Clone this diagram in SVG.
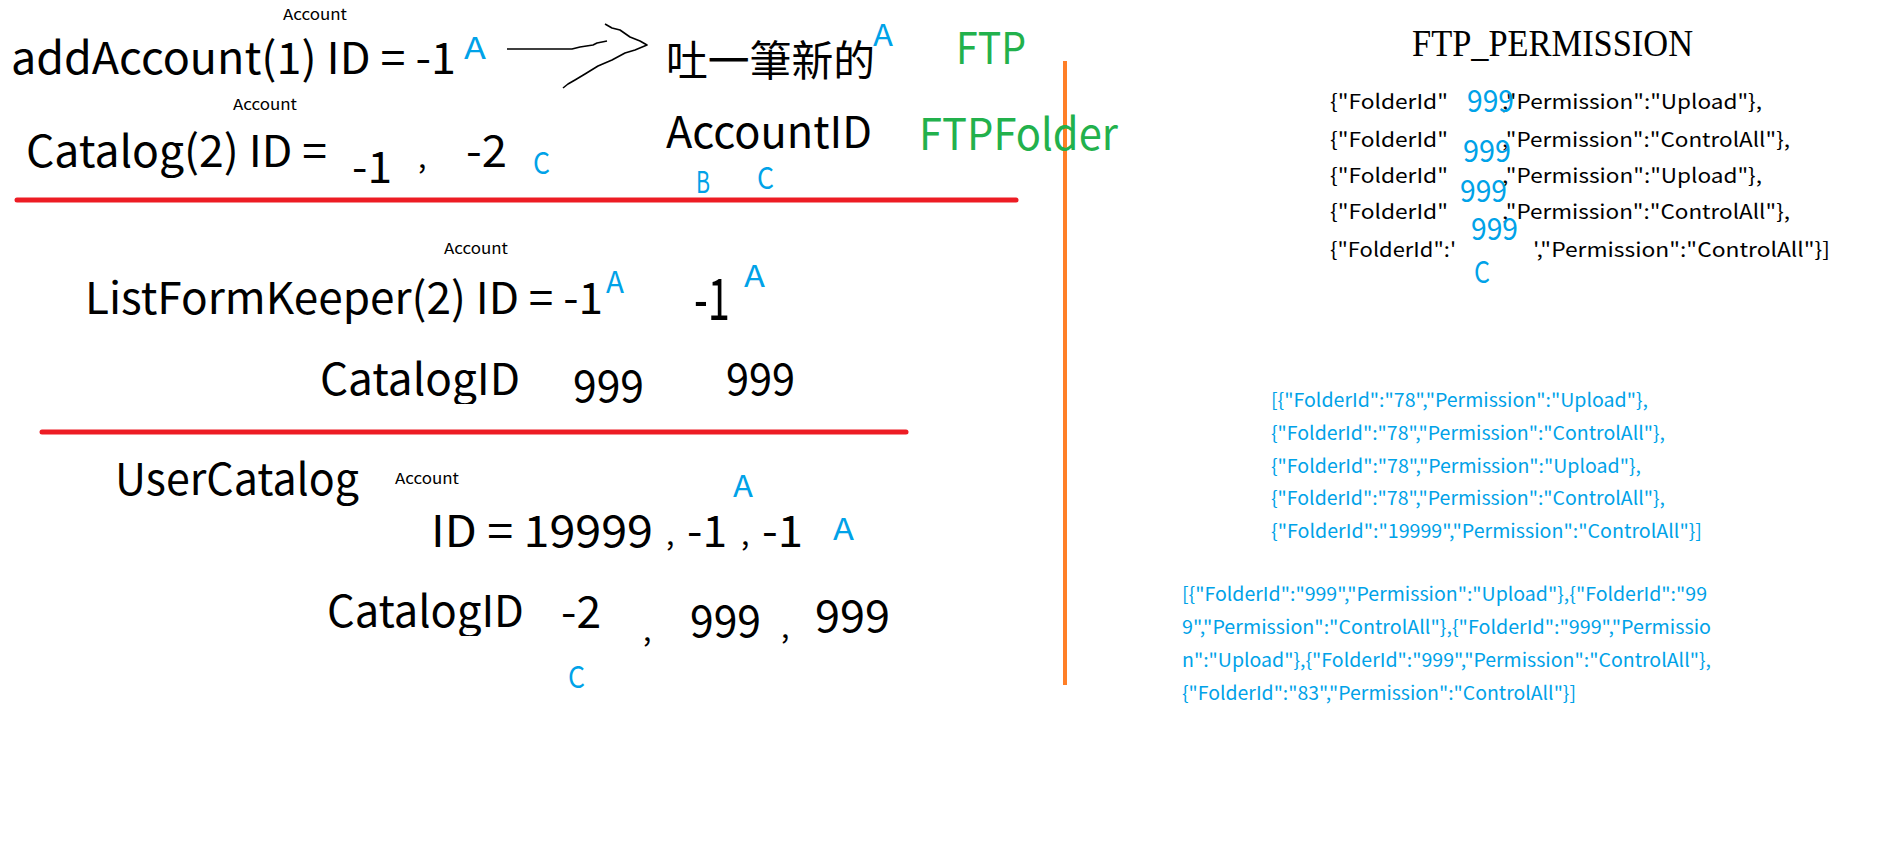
<svg xmlns="http://www.w3.org/2000/svg" width="1894" height="852" viewBox="0 0 1894 852">
<defs>
<style>
text{font-family:"Noto Sans CJK TC","Noto Sans",sans-serif;fill:#000}
.big{font-size:44px}
.sm{font-size:15px}
.lbl{font-size:30px;fill:#00a2e8}
.gr{fill:#22b14c}
.js{font-size:20px}
.bjs{font-size:19px;fill:#00a2e8}
.b9{font-size:31px;fill:#00a2e8}
.serif{font-family:"Liberation Serif",serif;font-size:38px}
.sep{stroke:#ed1c24;stroke-width:5;stroke-linecap:round}
</style>
<clipPath id="clip1"><rect x="300" y="340" width="240" height="64"/></clipPath>
<clipPath id="clip2"><rect x="300" y="570" width="240" height="66"/></clipPath>
</defs>
<rect width="1894" height="852" fill="#fff"/>

<g id="lines">
<line class="sep" x1="17" y1="200" x2="1016" y2="200"/>
<line class="sep" x1="42" y1="432" x2="906" y2="432"/>
<line x1="1065" y1="61" x2="1065" y2="685" stroke="#ff7f27" stroke-width="4"/>
</g>

<g id="connectors" fill="none" stroke="#000" stroke-width="1.6" stroke-linejoin="round">
<polyline points="507,49 572,49 580,47 593,45 597,43 607,41"/>
<polyline points="605,24 612,28 620,30 630,37 640,41 647,45 635,50 625,53 612,60 598,66 585,74 575,80 568,84 563,88"/>
</g>

<g id="row1">
<text class="sm" x="283" y="20" textLength="64" lengthAdjust="spacingAndGlyphs">Account</text>
<text class="big" x="11" y="74" textLength="445" lengthAdjust="spacingAndGlyphs">addAccount(1) ID = -1</text>
<text class="lbl" x="464" y="59" textLength="22" lengthAdjust="spacingAndGlyphs">A</text>
<text x="666" y="76" style="font-size:42px" textLength="209" lengthAdjust="spacingAndGlyphs">吐一筆新的</text>
<text class="lbl" x="873" y="46" textLength="20" lengthAdjust="spacingAndGlyphs">A</text>
<text class="big gr" x="956" y="64" textLength="70" lengthAdjust="spacingAndGlyphs">FTP</text>
</g>

<g id="row2">
<text class="sm" x="233" y="110" textLength="64" lengthAdjust="spacingAndGlyphs">Account</text>
<text class="big" x="26" y="167" textLength="301" lengthAdjust="spacingAndGlyphs">Catalog(2) ID =</text>
<text class="big" x="352" y="183" textLength="40" lengthAdjust="spacingAndGlyphs">-1</text>
<text x="418" y="168" style="font-size:30px">,</text>
<text class="big" x="466" y="167" textLength="41" lengthAdjust="spacingAndGlyphs">-2</text>
<text class="lbl" x="533" y="174" textLength="17" lengthAdjust="spacingAndGlyphs">C</text>
<text class="big" x="666" y="148" textLength="206" lengthAdjust="spacingAndGlyphs">AccountID</text>
<text class="big gr" x="919" y="150" textLength="199" lengthAdjust="spacingAndGlyphs">FTPFolder</text>
<text class="lbl" x="696" y="193" textLength="14" lengthAdjust="spacingAndGlyphs">B</text>
<text class="lbl" x="757" y="189" textLength="17" lengthAdjust="spacingAndGlyphs">C</text>
</g>

<g id="row3">
<text class="sm" x="444" y="254" textLength="64" lengthAdjust="spacingAndGlyphs">Account</text>
<text class="big" x="85" y="314" textLength="518" lengthAdjust="spacingAndGlyphs">ListFormKeeper(2) ID = -1</text>
<text class="lbl" x="606" y="293" textLength="18" lengthAdjust="spacingAndGlyphs">A</text>
<text x="694" y="320" style="font-size:58px" textLength="36" lengthAdjust="spacingAndGlyphs">-1</text>
<text class="lbl" x="744" y="287" textLength="21" lengthAdjust="spacingAndGlyphs">A</text>
<text class="big" x="320" y="395" textLength="200" lengthAdjust="spacingAndGlyphs" clip-path="url(#clip1)">CatalogID</text>
<text class="big" x="573" y="402" textLength="71" lengthAdjust="spacingAndGlyphs">999</text>
<text class="big" x="726" y="395" textLength="69" lengthAdjust="spacingAndGlyphs">999</text>
</g>

<g id="row4">
<text class="big" x="115" y="495" textLength="244" lengthAdjust="spacingAndGlyphs">UserCatalog</text>
<text class="sm" x="395" y="484" textLength="64" lengthAdjust="spacingAndGlyphs">Account</text>
<text class="lbl" x="733" y="497" textLength="20" lengthAdjust="spacingAndGlyphs">A</text>
<text class="big" x="431" y="547" textLength="222" lengthAdjust="spacingAndGlyphs">ID = 19999</text>
<text x="666" y="545" style="font-size:30px">,</text>
<text class="big" x="687" y="547" textLength="40" lengthAdjust="spacingAndGlyphs">-1</text>
<text x="741" y="545" style="font-size:30px">,</text>
<text class="big" x="762" y="547" textLength="41" lengthAdjust="spacingAndGlyphs">-1</text>
<text class="lbl" x="833" y="540" textLength="21" lengthAdjust="spacingAndGlyphs">A</text>
<text class="big" x="327" y="627" textLength="197" lengthAdjust="spacingAndGlyphs" clip-path="url(#clip2)">CatalogID</text>
<text class="big" x="561" y="628" textLength="40" lengthAdjust="spacingAndGlyphs">-2</text>
<text x="643" y="641" style="font-size:30px">,</text>
<text class="big" x="690" y="637" textLength="71" lengthAdjust="spacingAndGlyphs">999</text>
<text x="781" y="638" style="font-size:30px">,</text>
<text class="big" x="815" y="632" textLength="75" lengthAdjust="spacingAndGlyphs">999</text>
<text class="lbl" x="568" y="688" textLength="17" lengthAdjust="spacingAndGlyphs">C</text>
</g>

<g id="ftp-permission">
<text class="serif" x="1412" y="56" textLength="281" lengthAdjust="spacingAndGlyphs">FTP_PERMISSION</text>
<text class="js" x="1330" y="109" textLength="118" lengthAdjust="spacingAndGlyphs">{"FolderId"</text>
<text class="js" x="1502" y="109" textLength="260" lengthAdjust="spacingAndGlyphs">,"Permission":"Upload"},</text>
<text class="js" x="1330" y="147" textLength="118" lengthAdjust="spacingAndGlyphs">{"FolderId"</text>
<text class="js" x="1502" y="147" textLength="288" lengthAdjust="spacingAndGlyphs">,"Permission":"ControlAll"},</text>
<text class="js" x="1330" y="183" textLength="118" lengthAdjust="spacingAndGlyphs">{"FolderId"</text>
<text class="js" x="1502" y="183" textLength="260" lengthAdjust="spacingAndGlyphs">,"Permission":"Upload"},</text>
<text class="js" x="1330" y="219" textLength="118" lengthAdjust="spacingAndGlyphs">{"FolderId"</text>
<text class="js" x="1502" y="219" textLength="288" lengthAdjust="spacingAndGlyphs">,"Permission":"ControlAll"},</text>
<text class="js" x="1330" y="257" textLength="126" lengthAdjust="spacingAndGlyphs">{"FolderId":'</text>
<text class="js" x="1533" y="257" textLength="297" lengthAdjust="spacingAndGlyphs">',"Permission":"ControlAll"}]</text>
<text class="b9" x="1467" y="112" textLength="47" lengthAdjust="spacingAndGlyphs">999</text>
<text class="b9" x="1463" y="162" textLength="48" lengthAdjust="spacingAndGlyphs">999</text>
<text class="b9" x="1460" y="202" textLength="47" lengthAdjust="spacingAndGlyphs">999</text>
<text class="b9" x="1471" y="240" textLength="47" lengthAdjust="spacingAndGlyphs">999</text>
<text class="lbl" x="1474" y="283" textLength="16" lengthAdjust="spacingAndGlyphs">C</text>
</g>

<g id="json-78">
<text class="bjs" x="1271" y="407" textLength="377" lengthAdjust="spacingAndGlyphs">[{"FolderId":"78","Permission":"Upload"},</text>
<text class="bjs" x="1271" y="440" textLength="394" lengthAdjust="spacingAndGlyphs">{"FolderId":"78","Permission":"ControlAll"},</text>
<text class="bjs" x="1271" y="473" textLength="370" lengthAdjust="spacingAndGlyphs">{"FolderId":"78","Permission":"Upload"},</text>
<text class="bjs" x="1271" y="505" textLength="394" lengthAdjust="spacingAndGlyphs">{"FolderId":"78","Permission":"ControlAll"},</text>
<text class="bjs" x="1271" y="538" textLength="431" lengthAdjust="spacingAndGlyphs">{"FolderId":"19999","Permission":"ControlAll"}]</text>
</g>

<g id="json-999">
<text class="bjs" x="1182" y="601" textLength="525" lengthAdjust="spacingAndGlyphs">[{"FolderId":"999","Permission":"Upload"},{"FolderId":"99</text>
<text class="bjs" x="1182" y="634" textLength="529" lengthAdjust="spacingAndGlyphs">9","Permission":"ControlAll"},{"FolderId":"999","Permissio</text>
<text class="bjs" x="1182" y="667" textLength="529" lengthAdjust="spacingAndGlyphs">n":"Upload"},{"FolderId":"999","Permission":"ControlAll"},</text>
<text class="bjs" x="1182" y="700" textLength="394" lengthAdjust="spacingAndGlyphs">{"FolderId":"83","Permission":"ControlAll"}]</text>
</g>
</svg>
